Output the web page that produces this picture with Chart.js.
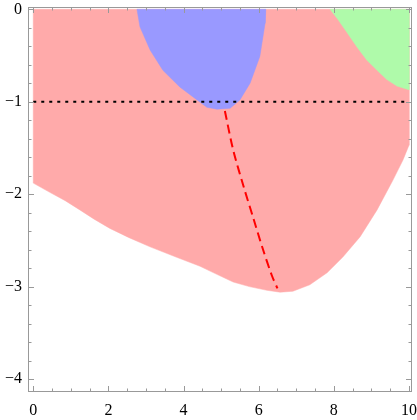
<!DOCTYPE html>
<html>
<head>
<meta charset="utf-8">
<script src="https://cdn.jsdelivr.net/npm/chart.js@4.4.0/dist/chart.umd.min.js"></script>
<style>
  html, body { margin: 0; padding: 0; background: #fff; }
  #wrap { width: 417px; height: 420px; }
</style>
</head>
<body>
<div id="wrap"><canvas id="regionChart" width="417" height="420"></canvas></div>
<script>
// region outlines
const pinkX = [0, 10, 10, 9.84, 9.57, 9.15, 8.70, 8.24, 7.82, 7.36, 6.91, 6.57, 6.22, 5.75, 5.32, 4.90, 4.44, 3.80, 3.11, 2.55, 2.04, 1.62, 1.24, 0.85, 0.44, 0, 0];
const pinkY = [0, 0, -1.47, -1.63, -1.85, -2.17, -2.46, -2.68, -2.85, -2.98, -3.05, -3.06, -3.04, -3.00, -2.95, -2.87, -2.78, -2.68, -2.57, -2.47, -2.37, -2.27, -2.17, -2.07, -1.98, -1.88, 0];

const blueX = [2.76, 6.19, 6.17, 6.03, 5.77, 5.50, 5.24, 4.89, 4.62, 4.36, 3.90, 3.45, 3.11, 2.84, 2.76];
const blueY = [0, 0, -0.15, -0.51, -0.80, -0.98, -1.07, -1.08, -1.06, -0.98, -0.84, -0.66, -0.44, -0.19, 0];

const greenX = [7.90, 10, 10, 9.84, 9.68, 9.41, 9.15, 8.88, 8.62, 8.35, 8.11, 7.90];
const greenY = [0, 0, -0.87, -0.85, -0.83, -0.76, -0.66, -0.55, -0.41, -0.25, -0.11, 0];

const levelX = [0, 10];
const levelY = [-1, -1];

const pathX = [5.10, 5.32, 5.60, 5.85, 6.10, 6.35, 6.50];
const pathY = [-1.10, -1.52, -1.92, -2.25, -2.58, -2.88, -3.02];

const xTicks = [0, 2, 4, 6, 8, 10];
const yTicks = [-4, -3, -2, -1, 0];

const pts = (xs, ys) => xs.map((x, i) => ({ x: x, y: ys[i] }));

function region(xs, ys, color, order) {
  return {
    data: pts(xs, ys),
    showLine: true,
    fill: 'shape',
    backgroundColor: color,
    borderColor: color,
    borderWidth: 0.5,
    pointRadius: 0,
    tension: 0,
    order: order
  };
}

// frame with inward ticks on all four sides, Mathematica style
const framePlugin = {
  id: 'frame',
  afterDraw(chart) {
    const c = chart.ctx;
    const a = chart.chartArea;
    const xs = chart.scales.x, ys = chart.scales.y;
    c.save();
    c.strokeStyle = '#999';
    c.lineWidth = 1;
    c.strokeRect(Math.round(a.left) + 0.5, Math.round(a.top) + 0.5,
      Math.round(a.right - a.left) - 1, Math.round(a.bottom - a.top) - 1);
    c.beginPath();
    for (let i = 0; i <= 20; i++) {
      const v = i * 0.5;
      const len = (i % 4 === 0) ? 6 : 3.5;
      const px = Math.round(xs.getPixelForValue(v)) + 0.5;
      c.moveTo(px, a.bottom); c.lineTo(px, a.bottom - len);
      c.moveTo(px, a.top); c.lineTo(px, a.top + len);
    }
    for (let i = 0; i <= 20; i++) {
      const v = -4 + i * 0.2;
      const len = (i % 5 === 0) ? 6 : 3.5;
      const py = Math.round(ys.getPixelForValue(v)) + 0.5;
      c.moveTo(a.left, py); c.lineTo(a.left + len, py);
      c.moveTo(a.right, py); c.lineTo(a.right - len, py);
    }
    c.stroke();
    c.restore();
  }
};

const fmt = v => v < 0 ? '\u2212' + (-v) : String(v);
const noPad = s => { s.paddingLeft = 0; s.paddingRight = 0; s.paddingTop = 0; s.paddingBottom = 0; };

new Chart(document.getElementById('regionChart').getContext('2d'), {
  type: 'scatter',
  data: {
    datasets: [
      region(pinkX, pinkY, 'rgb(255,170,170)', 5),
      region(blueX, blueY, 'rgb(153,153,255)', 4),
      region(greenX, greenY, 'rgb(175,250,170)', 3),
      {
        data: pts(levelX, levelY),
        showLine: true,
        borderColor: '#000',
        borderWidth: 2,
        borderDash: [3, 5],
        pointRadius: 0,
        order: 2
      },
      {
        data: pts(pathX, pathY),
        showLine: true,
        borderColor: '#ff0000',
        borderWidth: 2,
        borderDash: [9, 5],
        pointRadius: 0,
        tension: 0.3,
        order: 1
      }
    ]
  },
  options: {
    responsive: false,
    animation: false,
    layout: { padding: { top: 7, right: 5, left: 0, bottom: 0 } },
    plugins: { legend: { display: false }, tooltip: { enabled: false } },
    scales: {
      x: {
        type: 'linear',
        min: -0.14,
        max: 10.08,
        afterBuildTicks: s => { s.ticks = xTicks.map(v => ({ value: v })); },
        afterFit: s => { s.height = 28; noPad(s); },
        grid: { display: false, drawTicks: false },
        border: { display: false },
        ticks: {
          padding: 9,
          color: '#000',
          font: { family: 'Liberation Serif', size: 16 },
          callback: fmt,
          maxRotation: 0
        }
      },
      y: {
        type: 'linear',
        min: -4.14,
        max: 0.025,
        afterBuildTicks: s => { s.ticks = yTicks.map(v => ({ value: v })); },
        afterFit: s => { s.width = 28; noPad(s); },
        grid: { display: false, drawTicks: false },
        border: { display: false },
        ticks: {
          padding: 6,
          color: '#000',
          font: { family: 'Liberation Serif', size: 16 },
          callback: fmt
        }
      }
    }
  },
  plugins: [framePlugin]
});
</script>
</body>
</html>
